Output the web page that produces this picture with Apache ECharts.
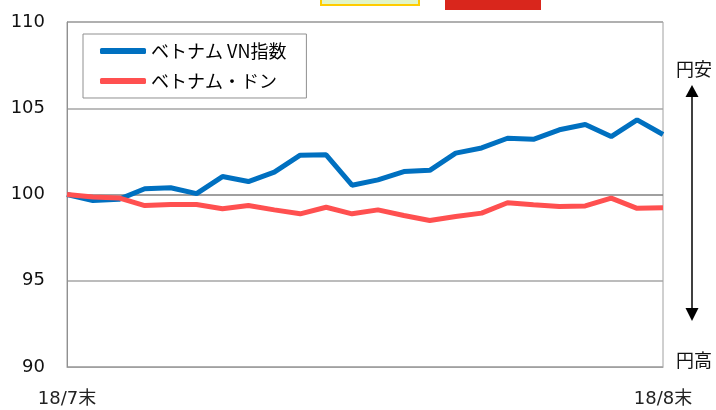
<!DOCTYPE html>
<html>
<head>
<meta charset="utf-8">
<script src="https://cdn.jsdelivr.net/npm/echarts@6/dist/echarts.min.js"></script>
<style>
  html, body { margin: 0; padding: 0; background: #fff; }
  #chart { width: 716px; height: 410px; }
</style>
</head>
<body>
<div id="chart"></div>
<script>
// 日付（営業日）
let categories = ['18/7末', '8/1', '8/2', '8/3', '8/6', '8/7', '8/8', '8/9', '8/10',
    '8/13', '8/14', '8/15', '8/16', '8/17', '8/20', '8/21', '8/22', '8/23', '8/24',
    '8/27', '8/28', '8/29', '8/30', '18/8末'];
// ベトナム VN指数（7月末=100）
let vnIndex = [100, 99.65, 99.72, 100.33, 100.39, 100.05, 101.04, 100.75, 101.3, 102.28,
    102.3, 100.54, 100.85, 101.33, 101.4, 102.4, 102.7, 103.26, 103.2, 103.75,
    104.06, 103.36, 104.33, 103.48];
// ベトナム・ドン（対円, 7月末=100）
let dong = [100, 99.85, 99.8, 99.36, 99.42, 99.42, 99.17, 99.36, 99.11, 98.88,
    99.26, 98.88, 99.11, 98.78, 98.49, 98.72, 98.92, 99.52, 99.4, 99.3,
    99.34, 99.79, 99.2, 99.23];
let seriesNames = ['ベトナム VN指数', 'ベトナム・ドン'];
let yTicks = [90, 95, 100, 105, 110];

let jp = '"Noto Sans CJK JP", "DejaVu Sans", sans-serif';
let num = '"DejaVu Sans", "Noto Sans CJK JP", sans-serif';

let chart = echarts.init(document.getElementById('chart'));

let options = {
    animation: false,
    backgroundColor: '#fff',
    grid: {
        left: 67, right: 53, top: 22, bottom: 43,
        show: true, borderColor: '#a0a0a0', borderWidth: 1
    },
    legend: {
        data: seriesNames,
        orient: 'vertical',
        left: 83, top: 34,
        padding: [8, 20, 8, 17],
        itemGap: 12,
        itemWidth: 46, itemHeight: 6,
        icon: 'roundRect',
        backgroundColor: '#fff',
        borderColor: '#909090', borderWidth: 1,
        textStyle: { fontFamily: jp, fontSize: 18, color: '#000' }
    },
    xAxis: {
        type: 'category',
        data: categories,
        boundaryGap: false,
        axisLine: { show: true, lineStyle: { color: '#a0a0a0' } },
        axisTick: { show: false },
        axisLabel: {
            interval: (i) => i === 0 || i === categories.length - 1,
            margin: 23,
            fontFamily: num, fontSize: 18, color: '#222'
        }
    },
    yAxis: {
        type: 'value',
        min: yTicks[0], max: yTicks[yTicks.length - 1], interval: 5,
        axisLine: { show: true, lineStyle: { color: '#909090' } },
        axisTick: { show: false },
        axisLabel: { margin: 22, fontFamily: num, fontSize: 18, color: '#111' },
        splitLine: {
            show: true,
            lineStyle: { color: ['#a6a6a6', '#a6a6a6', '#808080', '#a6a6a6', '#a6a6a6'], width: 1.5 }
        }
    },
    series: [
        {
            name: seriesNames[0], type: 'line', data: vnIndex,
            showSymbol: false, symbol: 'none',
            lineStyle: { color: '#0070c0', width: 5 },
            itemStyle: { color: '#0070c0' }
        },
        {
            name: seriesNames[1], type: 'line', data: dong,
            showSymbol: false, symbol: 'none',
            lineStyle: { color: '#ff5050', width: 5 },
            itemStyle: { color: '#ff5050' }
        }
    ],
    graphic: [
        { type: 'rect', shape: { x: 321, y: -6, width: 98, height: 11 },
          style: { fill: '#e2f5c8', stroke: '#ffcc00', lineWidth: 2 } },
        { type: 'rect', shape: { x: 445, y: 0, width: 96, height: 10 },
          style: { fill: '#d9261c' } },
        { type: 'text', x: 694, y: 69,
          style: { text: '円安', font: '18px ' + jp, fill: '#111', align: 'center', verticalAlign: 'middle' } },
        { type: 'text', x: 694, y: 360,
          style: { text: '円高', font: '18px ' + jp, fill: '#111', align: 'center', verticalAlign: 'middle' } },
        { type: 'line', shape: { x1: 692, y1: 96, x2: 692, y2: 309 },
          style: { stroke: '#000', lineWidth: 1.5 } },
        { type: 'polygon', shape: { points: [[692, 85], [685.5, 97], [698.5, 97]] },
          style: { fill: '#000' } },
        { type: 'polygon', shape: { points: [[692, 321], [685.5, 308], [698.5, 308]] },
          style: { fill: '#000' } }
    ]
};
chart.setOption(options);
</script>
</body>
</html>
